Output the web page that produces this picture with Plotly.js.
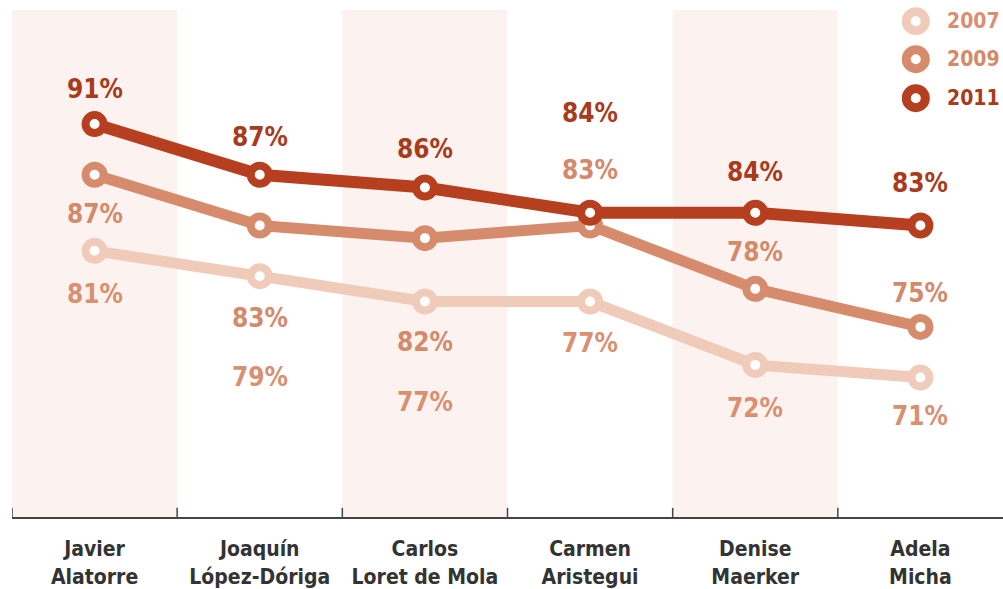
<!DOCTYPE html>
<html>
<head>
<meta charset="utf-8">
<script src="https://cdn.plot.ly/plotly-3.0.1.min.js"></script>
<style>html,body{margin:0;padding:0;background:#fff;}#chart{width:1003px;height:589px;}</style>
</head>
<body>
<div id="chart"></div>
<script>
const categories = ["Javier<br>Alatorre", "Joaquín<br>López-Dóriga", "Carlos<br>Loret de Mola", "Carmen<br>Aristegui", "Denise<br>Maerker", "Adela<br>Micha"];
const years = ["2007", "2009", "2011"];
const values2007 = [81, 79, 77, 77, 72, 71];
const values2009 = [87, 83, 82, 83, 78, 75];
const values2011 = [91, 87, 86, 84, 84, 83];

// label vertical offsets (px) relative to each point
const labelShift2007 = [-43, -101, -100, -41, -43, -38];
const labelShift2009 = [-39, -93, -104, 55, 37, 34];
const labelShift2011 = [35, 38, 38, 100, 41, 42];

const lineColors = ["#f0cbb9", "#d68c6c", "#b63f1f"];
const labelColors = ["#d99070", "#d48a6a", "#a93a1c"];
const lineWidths = [11, 11, 12];
const FONT = "'DejaVu Sans Condensed', 'Liberation Sans Narrow', 'DejaVu Sans', sans-serif";

const series = [values2007, values2009, values2011];
const shifts = [labelShift2007, labelShift2009, labelShift2011];
const xs = categories.map((c, i) => i);

const traces = series.map((vals, k) => ({
  type: "scatter",
  mode: "lines+markers",
  x: xs,
  y: vals,
  name: years[k],
  line: {color: lineColors[k], width: lineWidths[k]},
  marker: {symbol: "circle", size: 18, color: "#ffffff", line: {color: lineColors[k], width: 8}},
  hoverinfo: "skip",
  showlegend: false
}));

const annotations = [];
series.forEach((vals, k) => {
  vals.forEach((v, i) => {
    annotations.push({
      x: i, y: v, xref: "x", yref: "y",
      text: v + "%", showarrow: false,
      yshift: shifts[k][i],
      font: {family: FONT, size: 26, color: labelColors[k], weight: 700}
    });
  });
});
// legend
const legendY = [0.978, 0.903, 0.826];
years.forEach((yr, k) => {
  annotations.push({
    x: 0.941, y: legendY[k], xref: "paper", yref: "paper",
    xanchor: "left", yanchor: "middle",
    text: yr, showarrow: false,
    font: {family: FONT, size: 21, color: labelColors[k], weight: 700}
  });
});

const shapes = [];
[0, 2, 4].forEach(i => {
  shapes.push({type: "rect", xref: "x", yref: "paper", x0: i - 0.5, x1: i + 0.5, y0: 0, y1: 1,
    fillcolor: "#fcf3f0", line: {width: 0}, layer: "below"});
});
years.forEach((yr, k) => {
  const cx = 0.912, cy = legendY[k], rx = 0.0096, ry = 0.0187;
  shapes.push({type: "circle", xref: "paper", yref: "paper", x0: cx - rx, x1: cx + rx, y0: cy - ry, y1: cy + ry,
    fillcolor: "#ffffff", line: {color: lineColors[k], width: 9}});
});

const layout = {
  width: 1003, height: 589,
  margin: {l: 12, r: 0, t: 10, b: 72, pad: 0},
  paper_bgcolor: "#ffffff", plot_bgcolor: "#ffffff",
  showlegend: false,
  xaxis: {
    range: [-0.5, 5.5],
    tickmode: "array",
    tickvals: xs,
    ticktext: categories,
    ticks: "",
    ticklabelstandoff: 12,
    showgrid: false, zeroline: false,
    showline: true, linecolor: "#444", linewidth: 2,
    tickfont: {family: FONT, size: 21, color: "#333333", weight: 700},
    fixedrange: true
  },
  yaxis: {
    range: [60, 100],
    showgrid: false, zeroline: false, showticklabels: false, showline: false, ticks: "",
    fixedrange: true
  },
  annotations: annotations,
  shapes: shapes.concat([-0.5, 0.5, 1.5, 2.5, 3.5, 4.5].map(b => ({
    type: "line", xref: "x", yref: "paper", x0: b, x1: b, y0: 0, y1: 0.018,
    line: {color: "#444", width: 1.5}
  })))
};

Plotly.newPlot("chart", traces, layout, {displayModeBar: false, staticPlot: true});
</script>
</body>
</html>
